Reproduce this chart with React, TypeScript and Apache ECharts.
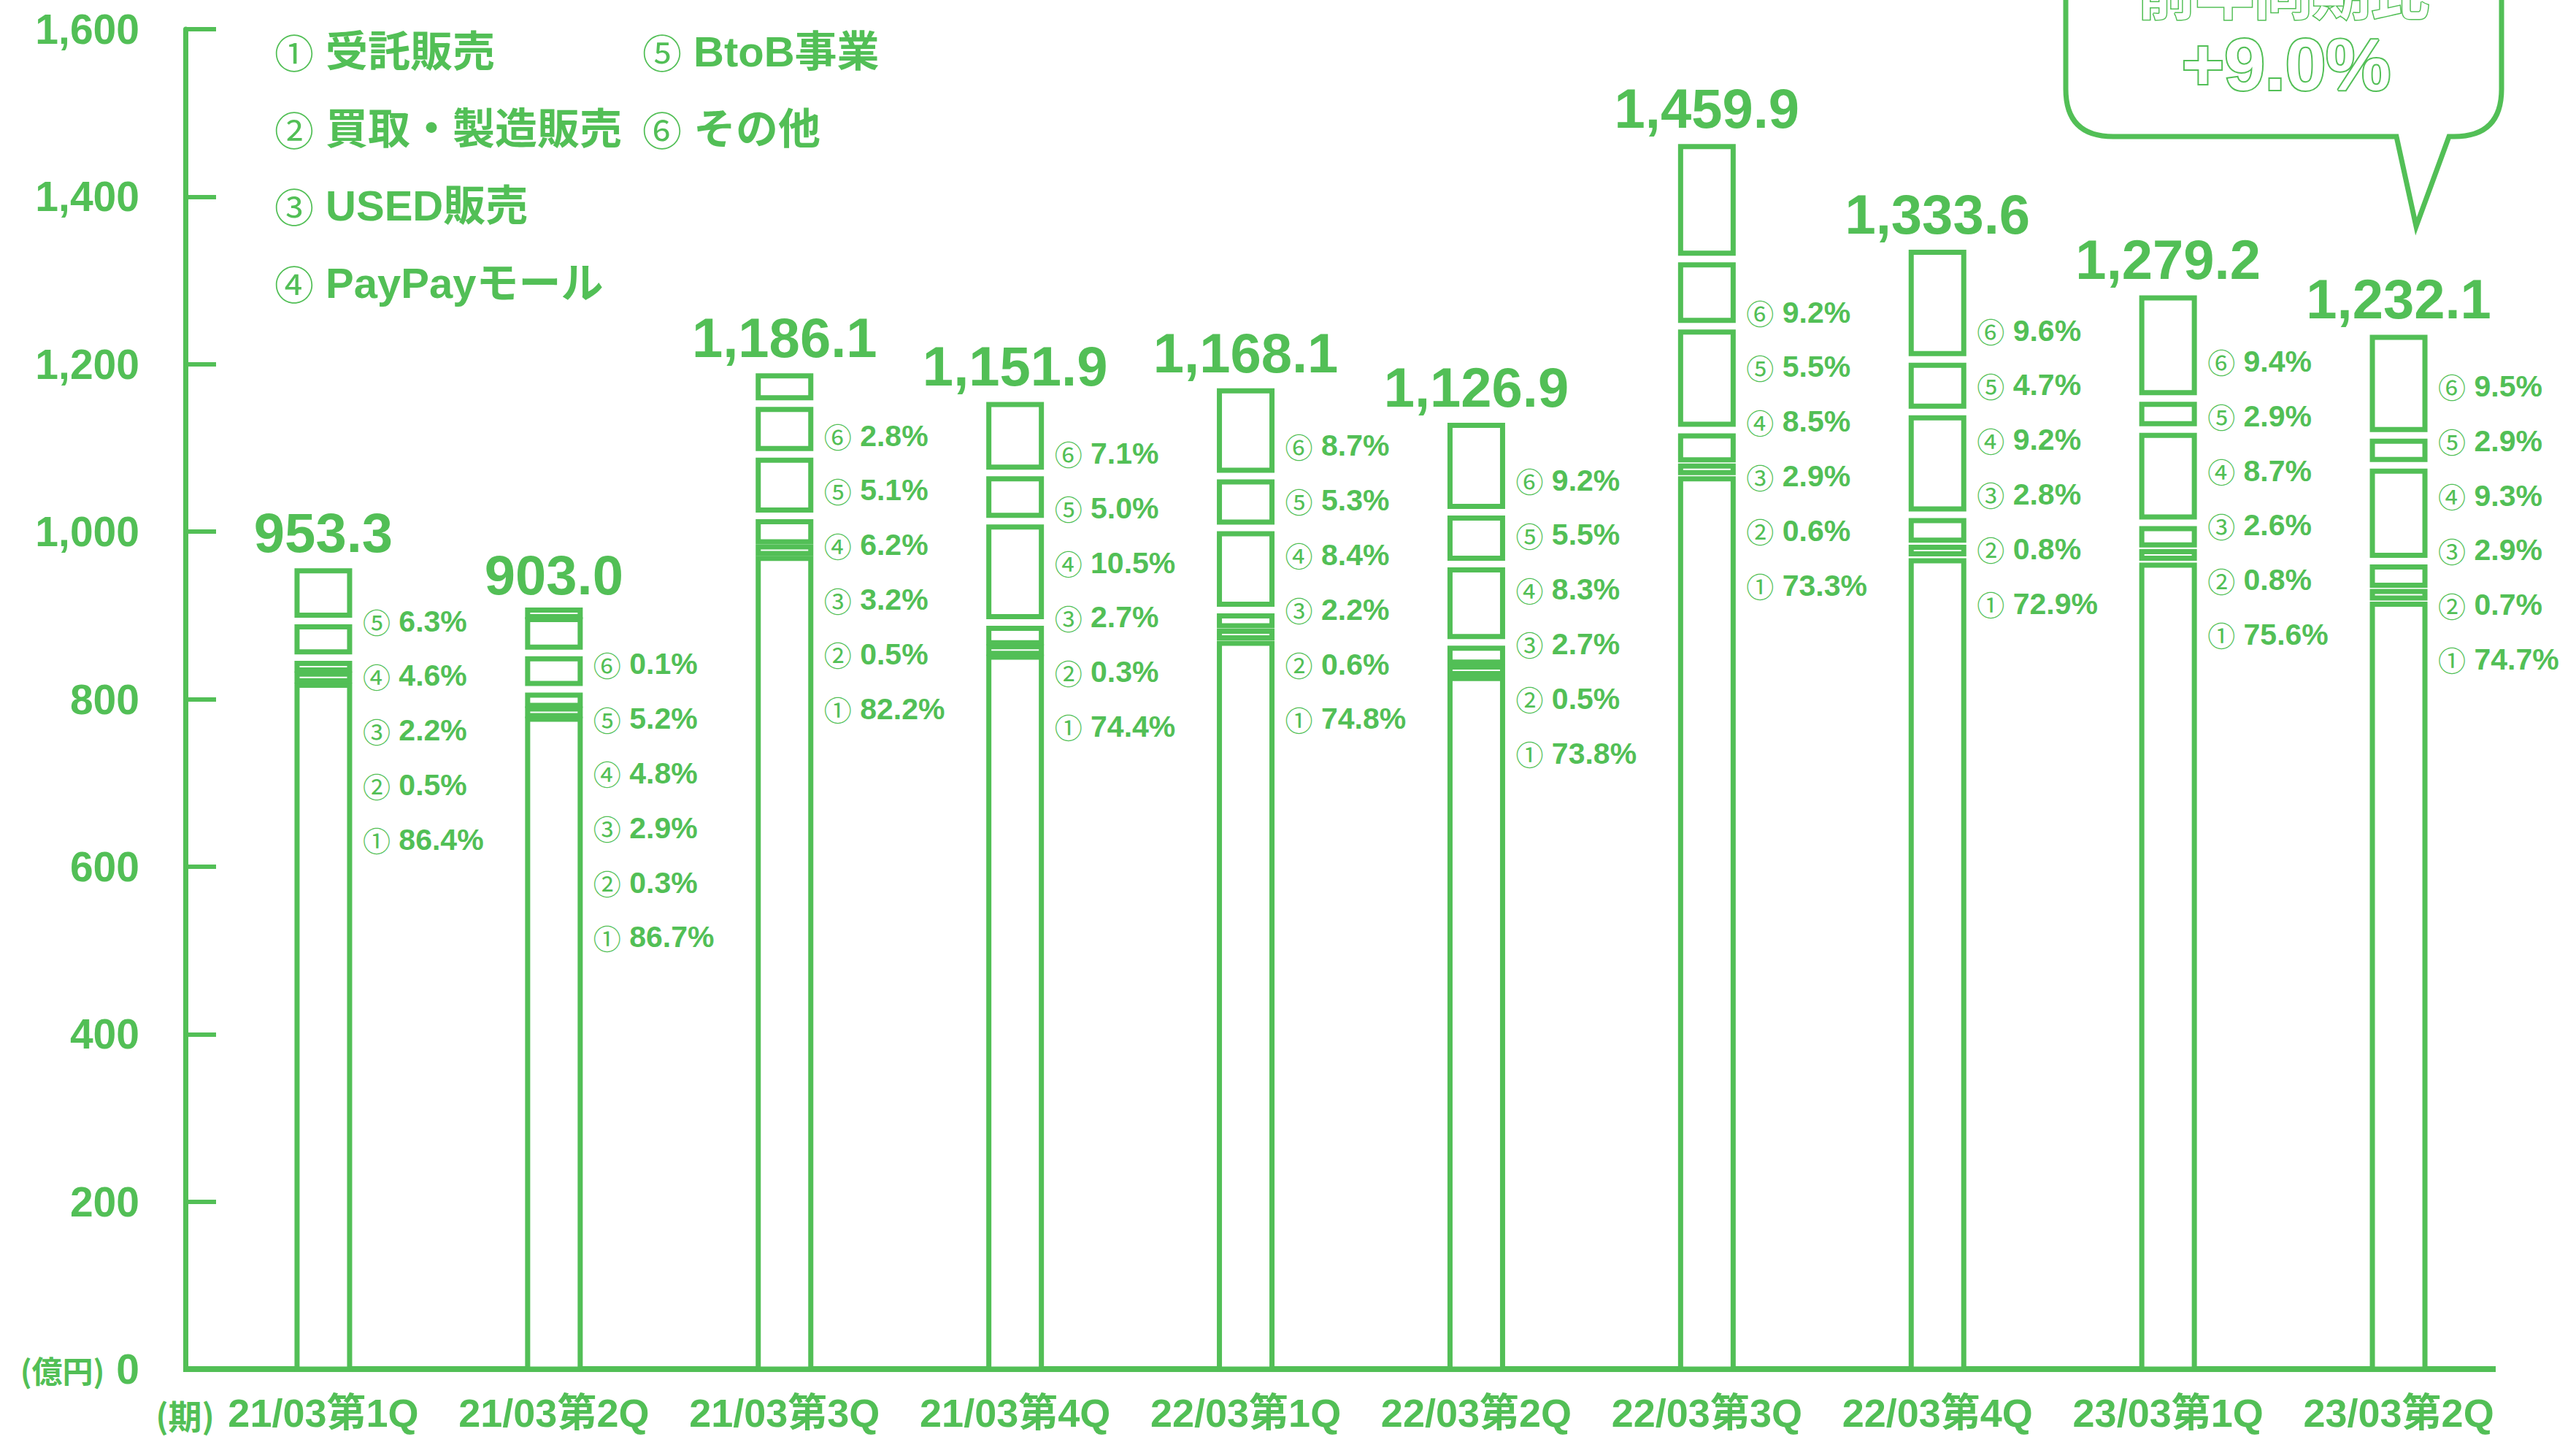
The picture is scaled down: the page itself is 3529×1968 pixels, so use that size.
import React, { useEffect, useRef } from 'react';
import * as echarts from 'echarts';

// ---------- data ----------
const categories = ['21/03第1Q', '21/03第2Q', '21/03第3Q', '21/03第4Q', '22/03第1Q', '22/03第2Q', '22/03第3Q', '22/03第4Q', '23/03第1Q', '23/03第2Q'];
const totals = [953.3, 903.0, 1186.1, 1151.9, 1168.1, 1126.9, 1459.9, 1333.6, 1279.2, 1232.1];
const share1 = [86.4, 86.7, 82.2, 74.4, 74.8, 73.8, 73.3, 72.9, 75.6, 74.7]; // ① 受託販売
const share2 = [0.5, 0.3, 0.5, 0.3, 0.6, 0.5, 0.6, 0.8, 0.8, 0.7]; // ② 買取・製造販売
const share3 = [2.2, 2.9, 3.2, 2.7, 2.2, 2.7, 2.9, 2.8, 2.6, 2.9]; // ③ USED販売
const share4 = [4.6, 4.8, 6.2, 10.5, 8.4, 8.3, 8.5, 9.2, 8.7, 9.3]; // ④ PayPayモール
const share5 = [6.3, 5.2, 5.1, 5.0, 5.3, 5.5, 5.5, 4.7, 2.9, 2.9]; // ⑤ BtoB事業
const share6 = [null, 0.1, 2.8, 7.1, 8.7, 9.2, 9.2, 9.6, 9.4, 9.5]; // ⑥ その他
const segmentNames = ['受託販売', '買取・製造販売', 'USED販売', 'PayPayモール', 'BtoB事業', 'その他'];
const circled = ['①', '②', '③', '④', '⑤', '⑥'];
const yMax = 1600;
const yStep = 200;
const bubbleTitle = '前年同期比';
const bubbleValue = '+9.0%';
const unitLabel = '(億円)';
const periodLabel = '(期)';

// ---------- layout (px) ----------
const pctLabelDrop = [69, 70, 82, 67, 75, 75, 227, 107, 87, 67];

const GREEN = '#52bf56';
const LATIN = '"Liberation Sans", "Noto Sans CJK JP", sans-serif';
const CJK = '"Noto Sans CJK JP", sans-serif';

const fmtTotal = (v: number) =>
  v.toLocaleString('en-US', { minimumFractionDigits: 1, maximumFractionDigits: 1 });

export default function App() {
  const ref = useRef<HTMLDivElement>(null);

  useEffect(() => {
    if (!ref.current) return;
    const d =
      'M2830,-60 L2830,122 Q2830,187 2895,187 L3283,187 L3310,310 L3355,187 L3362,187 Q3427,187 3427,122 L3427,-60 Z';
    echarts.graphic.registerShape('bubble', echarts.graphic.extendPath(d, {}) as any);

    const chart = echarts.init(ref.current, null, { renderer: 'svg' });
    const shares = [share1, share2, share3, share4, share5, share6];

    const renderItem = (params: any, api: any) => {
      const i = params.dataIndex;
      const total = totals[i];
      const sh = shares.map((a) => a[i]);
      const base = api.coord([i, 0]);
      const cx = base[0];
      const w = 72;
      const children: any[] = [];
      let lastIdx = 0;
      sh.forEach((s, k) => {
        if (s != null) lastIdx = k;
      });
      let cum = 0;
      sh.forEach((s, k) => {
        if (s == null) return;
        const v = (total * s) / 100;
        const start = cum;
        const end = cum + v;
        cum = end;
        const ys = api.coord([i, start])[1];
        const ye = api.coord([i, end])[1];
        let yb = ys - (k === 0 ? 0 : 8);
        let yt = ye + (k === lastIdx ? 0 : 8);
        if (yb - yt < 9) {
          const m = (ys + ye) / 2;
          yt = m - 4.5;
          yb = m + 4.5;
        }
        children.push({
          type: 'rect',
          shape: { x: cx - w / 2, y: yt, width: w, height: yb - yt },
          style: { fill: '#ffffff', stroke: GREEN, lineWidth: 7 },
        });
      });
      const topY = api.coord([i, total])[1];
      children.push({
        type: 'text',
        x: cx,
        y: topY - 52,
        style: {
          text: fmtTotal(total),
          fontSize: 76,
          fontWeight: 'bold',
          fontFamily: LATIN,
          fill: GREEN,
          align: 'center',
          verticalAlign: 'middle',
        },
      });
      let row = 0;
      for (let k = 5; k >= 0; k--) {
        const s = sh[k];
        if (s == null) continue;
        children.push({
          type: 'text',
          x: cx + 54,
          y: topY + pctLabelDrop[i] + row * 74.8,
          style: {
            text: `{c|${circled[k]}}{p| ${s.toFixed(1)}%}`,
            align: 'left',
            verticalAlign: 'middle',
            rich: {
              c: { fontSize: 38, fontFamily: CJK, fontWeight: 'normal', fill: GREEN },
              p: { fontSize: 41, fontFamily: LATIN, fontWeight: 'bold', fill: GREEN },
            },
          },
        });
        row++;
      }
      return { type: 'group', children };
    };

    const legendCols = [376, 880];
    const legendRows = [70, 176, 281, 387];
    const legendGraphics = segmentNames.map((name, k) => ({
      type: 'text',
      x: legendCols[k < 4 ? 0 : 1],
      y: legendRows[k < 4 ? k : k - 4],
      style: {
        text: `{c|${circled[k]}}{t| ${name}}`,
        align: 'left',
        verticalAlign: 'middle',
        rich: {
          c: { fontSize: 54, fontFamily: CJK, fontWeight: 'normal', fill: GREEN },
          t: { fontSize: 58, fontFamily: LATIN, fontWeight: 'bold', fill: GREEN },
        },
      },
    }));

    chart.setOption({
      animation: false,
      backgroundColor: '#ffffff',
      grid: { left: 285, right: 85, top: 40, bottom: 93, containLabel: false },
      xAxis: {
        type: 'category',
        data: categories,
        axisLine: { show: false },
        axisTick: { show: false },
        axisLabel: {
          interval: 0,
          margin: 33,
          color: GREEN,
          fontSize: 54,
          fontWeight: 'bold',
          fontFamily: LATIN,
        },
      },
      yAxis: {
        type: 'value',
        min: 0,
        max: yMax,
        interval: yStep,
        offset: 31,
        axisLine: { show: true, lineStyle: { color: GREEN, width: 7 } },
        axisTick: { show: true, inside: true, length: 42, lineStyle: { color: GREEN, width: 6 } },
        splitLine: { show: false },
        axisLabel: {
          margin: 63,
          color: GREEN,
          fontSize: 57,
          fontWeight: 'bold',
          fontFamily: LATIN,
          formatter: (v: number) =>
            v === 0 ? `{u|${unitLabel}} 0` : v.toLocaleString('en-US'),
          rich: {
            u: { fontSize: 42, fontWeight: 'bold', color: GREEN, fontFamily: CJK },
          },
        },
      },
      series: [
        {
          type: 'custom',
          clip: false,
          renderItem,
          encode: { x: 0, y: 1 },
          data: categories.map((c, i) => [i, totals[i]]),
        },
      ],
      graphic: [
        {
          type: 'line',
          shape: { x1: 251, y1: 1875, x2: 3419, y2: 1875 },
          style: { stroke: GREEN, lineWidth: 8 },
        },
        {
          type: 'text',
          x: 294,
          y: 1937,
          style: {
            text: periodLabel,
            fontSize: 46,
            fontWeight: 'bold',
            fontFamily: CJK,
            fill: GREEN,
            align: 'right',
            verticalAlign: 'middle',
          },
        },
        ...legendGraphics,
        {
          type: 'bubble',
          x: 0,
          y: 0,
          scaleX: 1,
          scaleY: 1,
          style: { fill: '#ffffff', stroke: GREEN, lineWidth: 7 },
        },
        {
          type: 'text',
          x: 3128,
          y: 24,
          style: {
            text: bubbleTitle,
            fontSize: 80,
            fontWeight: 'bold',
            fontFamily: CJK,
            fill: '#ffffff',
            stroke: GREEN,
            lineWidth: 3,
            align: 'center',
            verticalAlign: 'bottom',
          },
        },
        {
          type: 'text',
          x: 3132,
          y: 88,
          style: {
            text: bubbleValue,
            fontSize: 100,
            fontWeight: 'bold',
            fontFamily: LATIN,
            fill: '#ffffff',
            stroke: GREEN,
            lineWidth: 4,
            align: 'center',
            verticalAlign: 'middle',
          },
        },
      ],
    });

    return () => {
      chart.dispose();
    };
  }, []);

  return (
    <div
      ref={ref}
      style={{ position: 'fixed', left: 0, top: 0, width: 3529, height: 1968, background: '#fff' }}
    />
  );
}
